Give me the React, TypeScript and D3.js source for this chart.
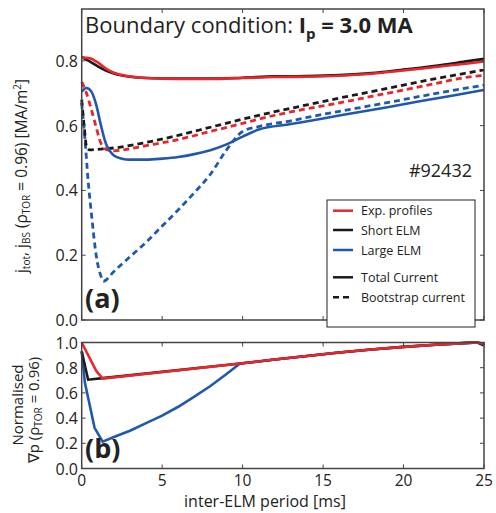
import React from "react";
import * as d3 from "d3";

// top panel: current density at rho_tor = 0.96
const expTotX = [0, 0.5, 1, 1.5, 2, 3, 4, 6, 8, 10, 12, 14, 16, 18, 20, 22, 24, 25];
const expTotY = [0.81, 0.808, 0.795, 0.776, 0.763, 0.752, 0.747, 0.744, 0.744, 0.747, 0.75, 0.751, 0.754, 0.76, 0.77, 0.781, 0.792, 0.798];
const shortTotX = [0, 0.5, 1, 1.5, 2, 3, 4, 6, 8, 10, 12, 14, 16, 18, 20, 22, 24, 25];
const shortTotY = [0.812, 0.798, 0.783, 0.77, 0.761, 0.751, 0.747, 0.745, 0.745, 0.748, 0.752, 0.753, 0.756, 0.762, 0.773, 0.785, 0.799, 0.806];
const largeTotX = [0, 0.3, 0.6, 0.9, 1.2, 1.5, 2, 2.5, 3, 4, 5, 6, 7, 8, 9, 10, 11, 13, 15, 17, 19, 21, 23, 25];
const largeTotY = [0.705, 0.716, 0.705, 0.665, 0.6, 0.545, 0.508, 0.498, 0.495, 0.495, 0.498, 0.503, 0.512, 0.524, 0.542, 0.566, 0.588, 0.605, 0.622, 0.64, 0.657, 0.675, 0.692, 0.71];

const expBsX = [0, 0.3, 0.6, 0.9, 1.2, 1.6, 2, 2.8, 4, 6, 8, 10, 12, 14, 16, 18, 20, 22, 24, 25];
const expBsY = [0.735, 0.7, 0.65, 0.595, 0.545, 0.525, 0.522, 0.527, 0.538, 0.557, 0.582, 0.607, 0.632, 0.652, 0.67, 0.69, 0.71, 0.73, 0.75, 0.755];
const shortBsX = [0, 0.15, 0.3, 0.5, 1, 2, 4, 6, 8, 10, 12, 14, 16, 18, 20, 22, 24, 25];
const shortBsY = [0.68, 0.6, 0.535, 0.525, 0.527, 0.531, 0.548, 0.57, 0.595, 0.62, 0.643, 0.664, 0.685, 0.705, 0.725, 0.745, 0.763, 0.772];
const largeBsX = [0, 0.2, 0.4, 0.6, 0.9, 1.2, 1.35, 2, 3, 4, 5, 6, 7, 8, 9, 10, 11, 13, 15, 17, 19, 21, 23, 25];
const largeBsY = [0.67, 0.56, 0.43, 0.33, 0.2, 0.135, 0.12, 0.15, 0.195, 0.24, 0.29, 0.34, 0.393, 0.45, 0.525, 0.582, 0.597, 0.615, 0.635, 0.653, 0.671, 0.69, 0.708, 0.725];

// bottom panel: normalised pressure gradient
const expGradX = [0, 0.9, 1.3, 10, 12, 14, 16, 18, 20, 22, 24, 24.6, 25];
const expGradY = [1.0, 0.775, 0.713, 0.835, 0.865, 0.893, 0.92, 0.945, 0.965, 0.982, 0.997, 1.0, 0.99];
const shortGradX = [0, 0.4, 1.3, 10, 12, 14, 16, 18, 20, 22, 24, 24.6, 25];
const shortGradY = [0.93, 0.705, 0.717, 0.835, 0.865, 0.893, 0.92, 0.945, 0.965, 0.982, 0.997, 1.0, 0.98];
const largeGradX = [0, 0.2, 0.8, 1.3, 2, 3, 4, 5, 6, 7, 8, 9, 9.8, 10, 12, 14, 16, 18, 20, 22, 24, 24.6, 25];
const largeGradY = [0.93, 0.68, 0.323, 0.213, 0.25, 0.3, 0.36, 0.42, 0.49, 0.57, 0.655, 0.75, 0.83, 0.835, 0.865, 0.893, 0.92, 0.945, 0.965, 0.982, 0.997, 1.0, 0.975];

const xTicks = [0, 5, 10, 15, 20, 25];
const topYTicks = [0, 0.2, 0.4, 0.6, 0.8];
const botYTicks = [0, 0.2, 0.4, 0.6, 0.8, 1.0];

const RED = "#e8262b";
const BLACK = "#1a1a1a";
const BLUE = "#2058ad";
const FONT = "'Open Sans', 'Noto Sans', sans-serif";

const zip = (xs: number[], ys: number[]) => xs.map((x, i) => [x, ys[i]] as [number, number]);

export default function App() {
  const left = 81.7, right = 484;
  const x = d3.scaleLinear().domain([0, 25]).range([left, right]);
  const yTop = d3.scaleLinear().domain([0, 0.96]).range([320, 9]);
  const yBot = d3.scaleLinear().domain([0, 1]).range([468.5, 342.5]);

  const lineTop = d3.line<[number, number]>().x(d => x(d[0])).y(d => yTop(d[1])).curve(d3.curveMonotoneX);
  const lineBot = d3.line<[number, number]>().x(d => x(d[0])).y(d => yBot(d[1]));

  const topSeries = [
    { xs: largeBsX, ys: largeBsY, c: BLUE, dash: true },
    { xs: shortBsX, ys: shortBsY, c: BLACK, dash: true },
    { xs: expBsX, ys: expBsY, c: RED, dash: true },
    { xs: largeTotX, ys: largeTotY, c: BLUE, dash: false },
    { xs: shortTotX, ys: shortTotY, c: BLACK, dash: false },
    { xs: expTotX, ys: expTotY, c: RED, dash: false },
  ];
  const botSeries = [
    { xs: largeGradX, ys: largeGradY, c: BLUE },
    { xs: shortGradX, ys: shortGradY, c: BLACK },
    { xs: expGradX, ys: expGradY, c: RED },
  ];

  const frame = (y: d3.ScaleLinear<number, number>, yt: number[], labels: boolean) => {
    const [y0, y1] = y.range();
    return (
      <g>
        <rect x={left} y={y1} width={right - left} height={y0 - y1} fill="none" stroke="#444" strokeWidth={1.5} />
        {xTicks.map(t => (
          <g key={"x" + t}>
            <line x1={x(t)} x2={x(t)} y1={y0} y2={y0 - 4} stroke="#444" />
            <line x1={x(t)} x2={x(t)} y1={y1} y2={y1 + 4} stroke="#444" />
            {labels && (
              <text x={x(t)} y={486} textAnchor="middle" fontSize={15.5} fill="#222">{t}</text>
            )}
          </g>
        ))}
        {yt.map(t => (
          <g key={"y" + t}>
            <line x1={left} x2={left + 4} y1={y(t)} y2={y(t)} stroke="#444" />
            <line x1={right} x2={right - 4} y1={y(t)} y2={y(t)} stroke="#444" />
            <text x={78} y={y(t) + 6} textAnchor="end" fontSize={16} fill="#222">{t.toFixed(1)}</text>
          </g>
        ))}
      </g>
    );
  };

  const legendY = [210.7, 230, 250, 277.3, 297.3];
  const legend = [
    { label: "Exp. profiles", c: RED, dash: false },
    { label: "Short ELM", c: BLACK, dash: false },
    { label: "Large ELM", c: BLUE, dash: false },
    { label: "Total Current", c: BLACK, dash: false },
    { label: "Bootstrap current", c: BLACK, dash: true },
  ];

  return (
    <svg width={496} height={513} style={{ position: "absolute", left: 0, top: 0, background: "#fff" }} fontFamily={FONT}>
      {/* top panel */}
      {topSeries.map((s, i) => (
        <path key={"t" + i} d={lineTop(zip(s.xs, s.ys)) || ""} fill="none" stroke={s.c}
          strokeWidth={s.dash ? 2.8 : 2.6} strokeDasharray={s.dash ? "6,4" : undefined} />
      ))}
      {frame(yTop, topYTicks, false)}

      <text x={85} y={33} fontSize={22} fill="#222">
        Boundary condition: <tspan fontWeight="bold">I</tspan>
        <tspan fontWeight="bold" fontSize={15} dy={6}>p</tspan>
        <tspan fontWeight="bold" dy={-6}> = 3.0 MA</tspan>
      </text>
      <text x={472} y={177} textAnchor="end" fontSize={18} fill="#222">#92432</text>
      <text x={85} y={308} fontSize={27} fontWeight="bold" fill="#222">(a)</text>

      <rect x={327} y={200} width={148} height={127} fill="#fff" stroke="#222" strokeWidth={1} />
      {legend.map((l, i) => (
        <g key={"l" + i}>
          <line x1={333} x2={353} y1={legendY[i]} y2={legendY[i]} stroke={l.c} strokeWidth={2.5}
            strokeDasharray={l.dash ? "6,4" : undefined} />
          <text x={361} y={legendY[i] + 4.5} fontSize={12.5} fill="#222">{l.label}</text>
        </g>
      ))}

      <text transform="translate(27,176) rotate(-90)" textAnchor="middle" fontSize={15.5} fill="#222">
        j<tspan fontSize={10} dy={3}>tot</tspan><tspan dy={-3}>, j</tspan>
        <tspan fontSize={10} dy={3}>BS</tspan><tspan dy={-3}> (ρ</tspan>
        <tspan fontSize={10} dy={3}>TOR</tspan><tspan dy={-3}> = 0.96) [MA/m</tspan>
        <tspan fontSize={10} dy={-6}>2</tspan><tspan dy={6}>]</tspan>
      </text>

      {/* bottom panel */}
      {botSeries.map((s, i) => (
        <path key={"b" + i} d={lineBot(zip(s.xs, s.ys)) || ""} fill="none" stroke={s.c} strokeWidth={2.6} />
      ))}
      {frame(yBot, botYTicks, true)}
      <text x={85} y={458} fontSize={27} fontWeight="bold" fill="#222">(b)</text>

      <text transform="translate(23,405) rotate(-90)" textAnchor="middle" fontSize={15} fill="#222">Normalised</text>
      <text transform="translate(39,410) rotate(-90)" textAnchor="middle" fontSize={15} fill="#222">
        ∇p (ρ<tspan fontSize={10} dy={3}>TOR</tspan><tspan dy={-3}> = 0.96)</tspan>
      </text>

      <text x={265} y={507} textAnchor="middle" fontSize={16} fill="#222">inter-ELM period [ms]</text>
    </svg>
  );
}
